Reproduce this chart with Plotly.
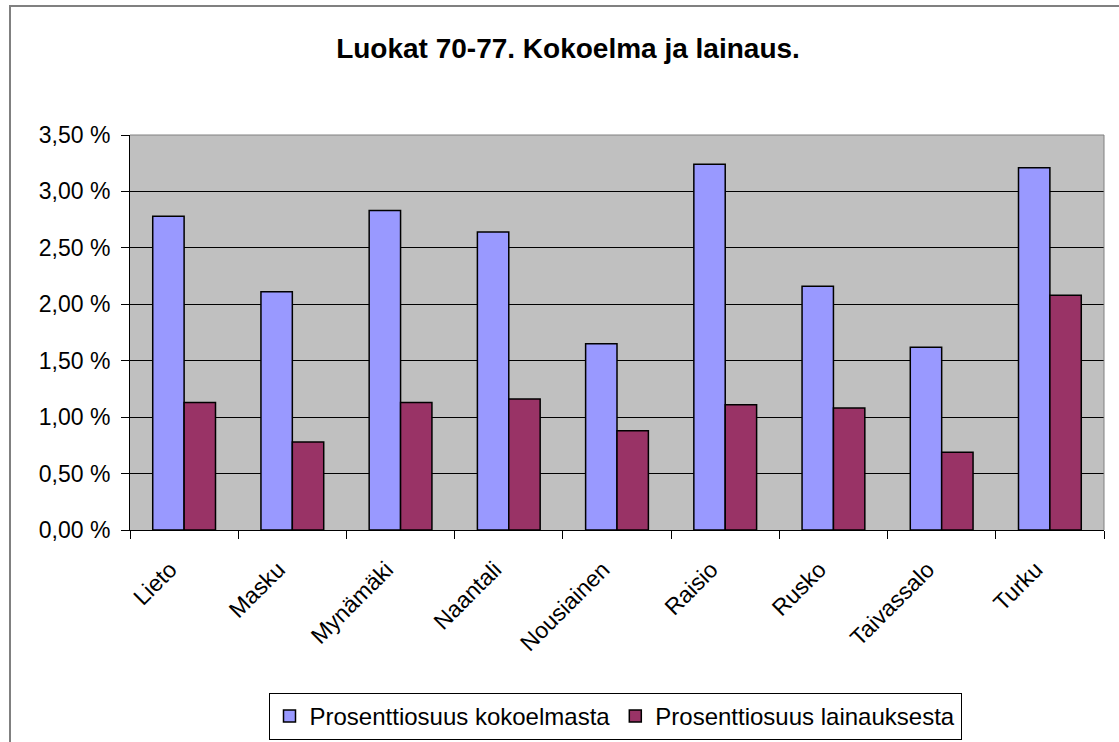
import plotly.graph_objects as go

categories = ["Lieto", "Masku", "Mynämäki", "Naantali", "Nousiainen",
              "Raisio", "Rusko", "Taivassalo", "Turku"]
kokoelma = [2.78, 2.11, 2.83, 2.64, 1.65, 3.24, 2.16, 1.62, 3.21]
lainaus = [1.13, 0.78, 1.13, 1.16, 0.88, 1.11, 1.08, 0.69, 2.08]
series_names = ["Prosenttiosuus kokoelmasta", "Prosenttiosuus lainauksesta"]
title_text = "Luokat 70-77. Kokoelma ja lainaus."

FONT = "Liberation Sans, Arial, sans-serif"

fig = go.Figure()
fig.add_trace(go.Bar(x=categories, y=kokoelma, name=series_names[0],
                     marker=dict(color="#9999FF", line=dict(color="black", width=1.5))))
fig.add_trace(go.Bar(x=categories, y=lainaus, name=series_names[1],
                     marker=dict(color="#993366", line=dict(color="black", width=1.5))))

L, R, T, B = 130, 1104, 135, 530
W, H = 1119, 742
pw, ph = R - L, B - T

def px(x):
    return (x - L) / pw

def py(y):
    return (B - y) / ph

fig.update_layout(
    width=W, height=H,
    margin=dict(l=L, r=W - R, t=T, b=H - B, autoexpand=False),
    paper_bgcolor="white",
    plot_bgcolor="#C0C0C0",
    separators=", ",
    barmode="group",
    bargap=0.42,
    bargroupgap=0,
    font=dict(family=FONT, size=22, color="black"),
    title=dict(text="<b>" + title_text + "</b>", x=px(568), xref="paper",
               xanchor="center", y=1 - 48 / H, yanchor="middle",
               font=dict(family=FONT, size=28, color="black")),
    showlegend=True,
    legend=dict(orientation="h", x=px(615), xanchor="center", y=py(693), yanchor="top",
                bordercolor="black", borderwidth=1, bgcolor="white",
                font=dict(family=FONT, size=24), traceorder="normal",
                itemwidth=30, tracegroupgap=0),
    xaxis=dict(
        showgrid=False, showline=True, linecolor="black", linewidth=1,
        ticks="outside", tickson="boundaries", ticklen=8, tickcolor="black",
        tickangle=-45, tickfont=dict(family=FONT, size=23),
        ticklabelstandoff=16, ticklabelshift=-14,
        mirror=False,
    ),
    yaxis=dict(
        range=[0, 3.5], dtick=0.5, tickformat=".2f", ticksuffix=" %",
        showgrid=True, gridcolor="black", gridwidth=1,
        showline=True, linecolor="black", linewidth=1,
        ticks="outside", ticklen=8, tickcolor="black",
        tickfont=dict(family=FONT, size=23), ticklabelstandoff=6,
        zeroline=False,
    ),
    shapes=[
        dict(type="rect", xref="paper", yref="paper",
             x0=px(10), x1=px(1130), y0=py(760), y1=py(6),
             line=dict(color="#808080", width=2), fillcolor="rgba(0,0,0,0)",
             layer="below"),
        dict(type="line", xref="paper", yref="paper",
             x0=1, x1=1, y0=0, y1=1, line=dict(color="#808080", width=1)),
        dict(type="line", xref="paper", yref="paper",
             x0=0, x1=1, y0=1, y1=1, line=dict(color="#808080", width=1)),
    ],
)

fig.write_html("out.html", config={"displayModeBar": False},
               post_script="document.body.style.margin='0';document.body.style.overflow='hidden';")
